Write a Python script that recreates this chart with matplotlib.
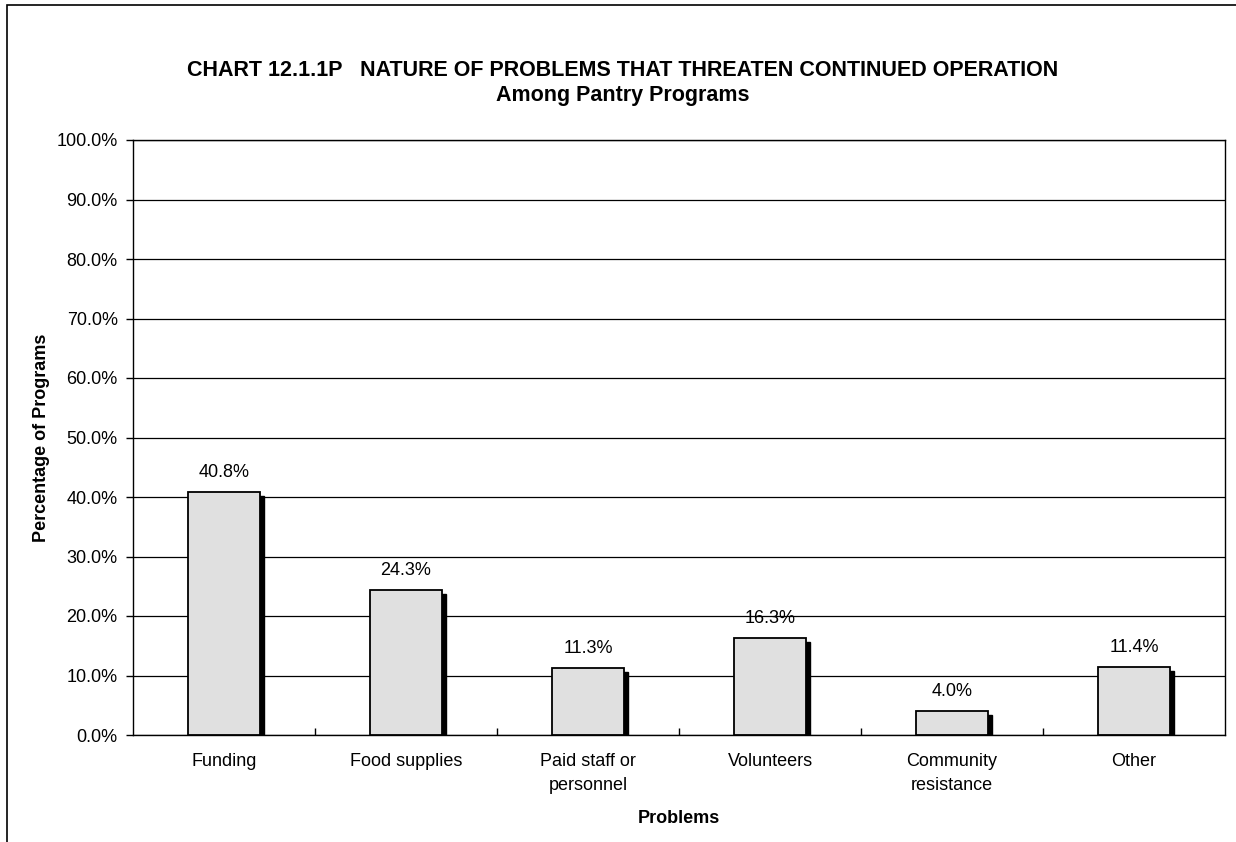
import matplotlib
matplotlib.use("Agg")
import matplotlib.pyplot as plt
from matplotlib.patches import Rectangle
from matplotlib.ticker import FuncFormatter
import matplotlib.transforms as mtransforms

categories = ["Funding", "Food supplies", "Paid staff or\npersonnel", "Volunteers", "Community\nresistance", "Other"]
values = [40.8, 24.3, 11.3, 16.3, 4.0, 11.4]
yticks = [0, 10, 20, 30, 40, 50, 60, 70, 80, 90, 100]

plt.rcParams['font.family'] = ['Liberation Sans', 'DejaVu Sans']

fig = plt.figure(figsize=(12.36, 8.42), dpi=100)
fig.patches.append(Rectangle((7/1236, -0.01), (1236-7)/1236 + 0.01, 1 - 5/842 + 0.01,
                             transform=fig.transFigure, fill=False, edgecolor='black', linewidth=1.2))
ax = fig.add_axes([133/1236, 1-735/842, (1225-133)/1236, (735-140)/842])

x = list(range(len(categories)))
width = 0.4
# shadow
shadow_off = mtransforms.offset_copy(ax.transData, fig=fig, x=4, y=-4, units='dots')
ax.bar(x, values, width=width, color='black', edgecolor='black', linewidth=1, transform=shadow_off, zorder=2)
ax.bar(x, values, width=width, color='#e0e0e0', edgecolor='black', linewidth=1.3, zorder=3)

for xi, v in zip(x, values):
    ax.annotate(f"{v:.1f}%", (xi, v), xytext=(0, 8), textcoords='offset points',
                ha='center', va='bottom', fontsize=13)

ax.set_xlim(-0.5, len(categories) - 0.5)
ax.set_ylim(0, 100)
ax.set_yticks(yticks)
ax.yaxis.set_major_formatter(FuncFormatter(lambda v, p: f"{v:.1f}%"))
ax.set_xticks([i + 0.5 for i in range(len(categories) - 1)], minor=False)
ax.set_xticklabels([])
ax.set_xticks(x, minor=True)
ax.set_xticklabels(categories, minor=True, fontsize=13, linespacing=1.5)
ax.tick_params(axis='x', which='minor', length=0, pad=13)
ax.tick_params(axis='x', which='major', length=5, direction='in', width=1)
ax.tick_params(axis='y', length=5, direction='out', width=1, labelsize=13, pad=6)
ax.grid(axis='y', color='black', linewidth=0.9, zorder=0)
ax.set_axisbelow(True)
for s in ax.spines.values():
    s.set_linewidth(1)
    s.set_color('black')

ax.set_ylabel("Percentage of Programs", fontsize=13, fontweight='bold', labelpad=5)
ax.set_xlabel("Problems", fontsize=13, fontweight='bold', labelpad=12)

fig.text(623/1236, 1 - 70/842, "CHART 12.1.1P   NATURE OF PROBLEMS THAT THREATEN CONTINUED OPERATION",
         ha='center', va='center', fontsize=15.5, fontweight='bold')
fig.text(623/1236, 1 - 96/842, "Among Pantry Programs",
         ha='center', va='center', fontsize=15.5, fontweight='bold')

fig.savefig("out.png", dpi=100)
